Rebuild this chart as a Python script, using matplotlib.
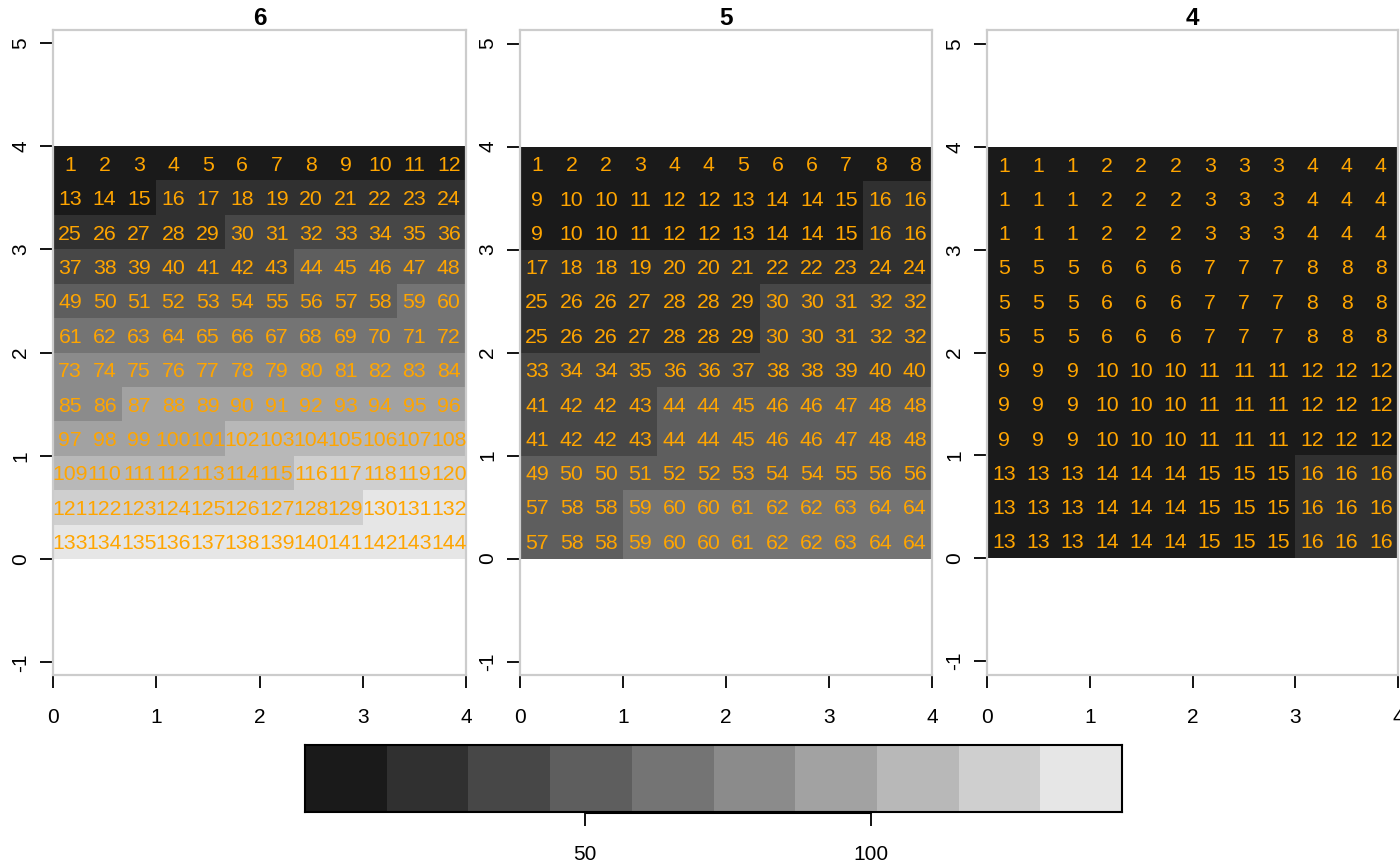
import numpy as np
import matplotlib
matplotlib.use("Agg")
import matplotlib.pyplot as plt
from matplotlib.colors import ListedColormap, BoundaryNorm

plt.rcParams['font.family'] = ['Liberation Sans', 'DejaVu Sans']

titles = ["6", "5", "4"]

grid_6 = [
    [1, 2, 3, 4, 5, 6, 7, 8, 9, 10, 11, 12],
    [13, 14, 15, 16, 17, 18, 19, 20, 21, 22, 23, 24],
    [25, 26, 27, 28, 29, 30, 31, 32, 33, 34, 35, 36],
    [37, 38, 39, 40, 41, 42, 43, 44, 45, 46, 47, 48],
    [49, 50, 51, 52, 53, 54, 55, 56, 57, 58, 59, 60],
    [61, 62, 63, 64, 65, 66, 67, 68, 69, 70, 71, 72],
    [73, 74, 75, 76, 77, 78, 79, 80, 81, 82, 83, 84],
    [85, 86, 87, 88, 89, 90, 91, 92, 93, 94, 95, 96],
    [97, 98, 99, 100, 101, 102, 103, 104, 105, 106, 107, 108],
    [109, 110, 111, 112, 113, 114, 115, 116, 117, 118, 119, 120],
    [121, 122, 123, 124, 125, 126, 127, 128, 129, 130, 131, 132],
    [133, 134, 135, 136, 137, 138, 139, 140, 141, 142, 143, 144],
]

grid_5 = [
    [1, 2, 2, 3, 4, 4, 5, 6, 6, 7, 8, 8],
    [9, 10, 10, 11, 12, 12, 13, 14, 14, 15, 16, 16],
    [9, 10, 10, 11, 12, 12, 13, 14, 14, 15, 16, 16],
    [17, 18, 18, 19, 20, 20, 21, 22, 22, 23, 24, 24],
    [25, 26, 26, 27, 28, 28, 29, 30, 30, 31, 32, 32],
    [25, 26, 26, 27, 28, 28, 29, 30, 30, 31, 32, 32],
    [33, 34, 34, 35, 36, 36, 37, 38, 38, 39, 40, 40],
    [41, 42, 42, 43, 44, 44, 45, 46, 46, 47, 48, 48],
    [41, 42, 42, 43, 44, 44, 45, 46, 46, 47, 48, 48],
    [49, 50, 50, 51, 52, 52, 53, 54, 54, 55, 56, 56],
    [57, 58, 58, 59, 60, 60, 61, 62, 62, 63, 64, 64],
    [57, 58, 58, 59, 60, 60, 61, 62, 62, 63, 64, 64],
]

grid_4 = [
    [1, 1, 1, 2, 2, 2, 3, 3, 3, 4, 4, 4],
    [1, 1, 1, 2, 2, 2, 3, 3, 3, 4, 4, 4],
    [1, 1, 1, 2, 2, 2, 3, 3, 3, 4, 4, 4],
    [5, 5, 5, 6, 6, 6, 7, 7, 7, 8, 8, 8],
    [5, 5, 5, 6, 6, 6, 7, 7, 7, 8, 8, 8],
    [5, 5, 5, 6, 6, 6, 7, 7, 7, 8, 8, 8],
    [9, 9, 9, 10, 10, 10, 11, 11, 11, 12, 12, 12],
    [9, 9, 9, 10, 10, 10, 11, 11, 11, 12, 12, 12],
    [9, 9, 9, 10, 10, 10, 11, 11, 11, 12, 12, 12],
    [13, 13, 13, 14, 14, 14, 15, 15, 15, 16, 16, 16],
    [13, 13, 13, 14, 14, 14, 15, 15, 15, 16, 16, 16],
    [13, 13, 13, 14, 14, 14, 15, 15, 15, 16, 16, 16],
]

value_min, value_max = 1, 144
n_classes = 10
cb_ticks = [50, 100]
x_ticks = [0, 1, 2, 3, 4]
y_ticks = [-1, 0, 1, 2, 3, 4, 5]

grays = np.linspace(0.1, 0.9, n_classes)
cmap = ListedColormap([(g, g, g) for g in grays])
bounds = np.linspace(value_min, value_max, n_classes + 1)
norm = BoundaryNorm(bounds, cmap.N)

W, H = 1400, 865
fig = plt.figure(figsize=(W / 100, H / 100), dpi=100)


def rect(x0, y0, x1, y1):
    return [x0 / W, 1 - y1 / H, (x1 - x0) / W, (y1 - y0) / H]


boxes = [(53, 30, 466, 675), (520, 30, 932, 675), (987, 30, 1398, 675)]
grids = [grid_6, grid_5, grid_4]

for (x0, y0, x1, y1), grid, title in zip(boxes, grids, titles):
    ax = fig.add_axes(rect(x0, y0, x1, y1))
    arr = np.array(grid, dtype=float)
    nr, nc = arr.shape
    xe = np.linspace(0, 4, nc + 1)
    ye = np.linspace(4, 0, nr + 1)
    ax.pcolormesh(xe, ye, arr, cmap=cmap, norm=norm, shading='flat',
                  antialiased=False, linewidth=0)
    for i in range(nr):
        for j in range(nc):
            ax.text((xe[j] + xe[j + 1]) / 2, (ye[i] + ye[i + 1]) / 2,
                    str(int(arr[i, j])), color='#FFA500', fontsize=15.3,
                    ha='center', va='center_baseline')
    ppu = (x1 - x0) / 4.0
    ax.set_xlim(0, 4)
    ext = (y1 - y0) / ppu
    pad = (ext - 6) / 2
    ax.set_ylim(-1 - pad, 5 + pad)
    for s in ax.spines.values():
        s.set_color('#CCCCCC')
        s.set_linewidth(1.6)
    ax.set_xticks(x_ticks)
    ax.set_xticklabels([str(v) for v in x_ticks])
    ax.set_yticks(y_ticks)
    ax.set_yticklabels([str(v) for v in y_ticks], rotation=90, va='center')
    ax.tick_params(axis='x', length=9, width=1.3, color='black', pad=15,
                   labelsize=15, direction='out')
    ax.tick_params(axis='y', length=9.5, width=1.3, color='black', pad=7,
                   labelsize=15, direction='out')
    ax.text(2, 5 + pad, title, transform=ax.transData, ha='center',
            va='bottom', fontsize=17.5, fontweight='bold')

# colorbar legend
cax = fig.add_axes(rect(305, 745, 1122, 812))
cax.pcolormesh(bounds, [0, 1], np.array([(bounds[:-1] + bounds[1:]) / 2]),
               cmap=cmap, norm=norm, shading='flat', antialiased=False)
cax.set_xlim(value_min, value_max)
cax.set_ylim(0, 1)
for s in cax.spines.values():
    s.set_color('black')
    s.set_linewidth(1.5)
cax.set_yticks([])
cax.set_xticks(cb_ticks)
cax.set_xticklabels([str(v) for v in cb_ticks])
cax.tick_params(axis='x', length=10, width=1.3, pad=14, labelsize=15)
cax.plot(cb_ticks, [0, 0], color='black', lw=2.2, clip_on=False,
         solid_capstyle='butt')

fig.savefig('out.png', dpi=100)
